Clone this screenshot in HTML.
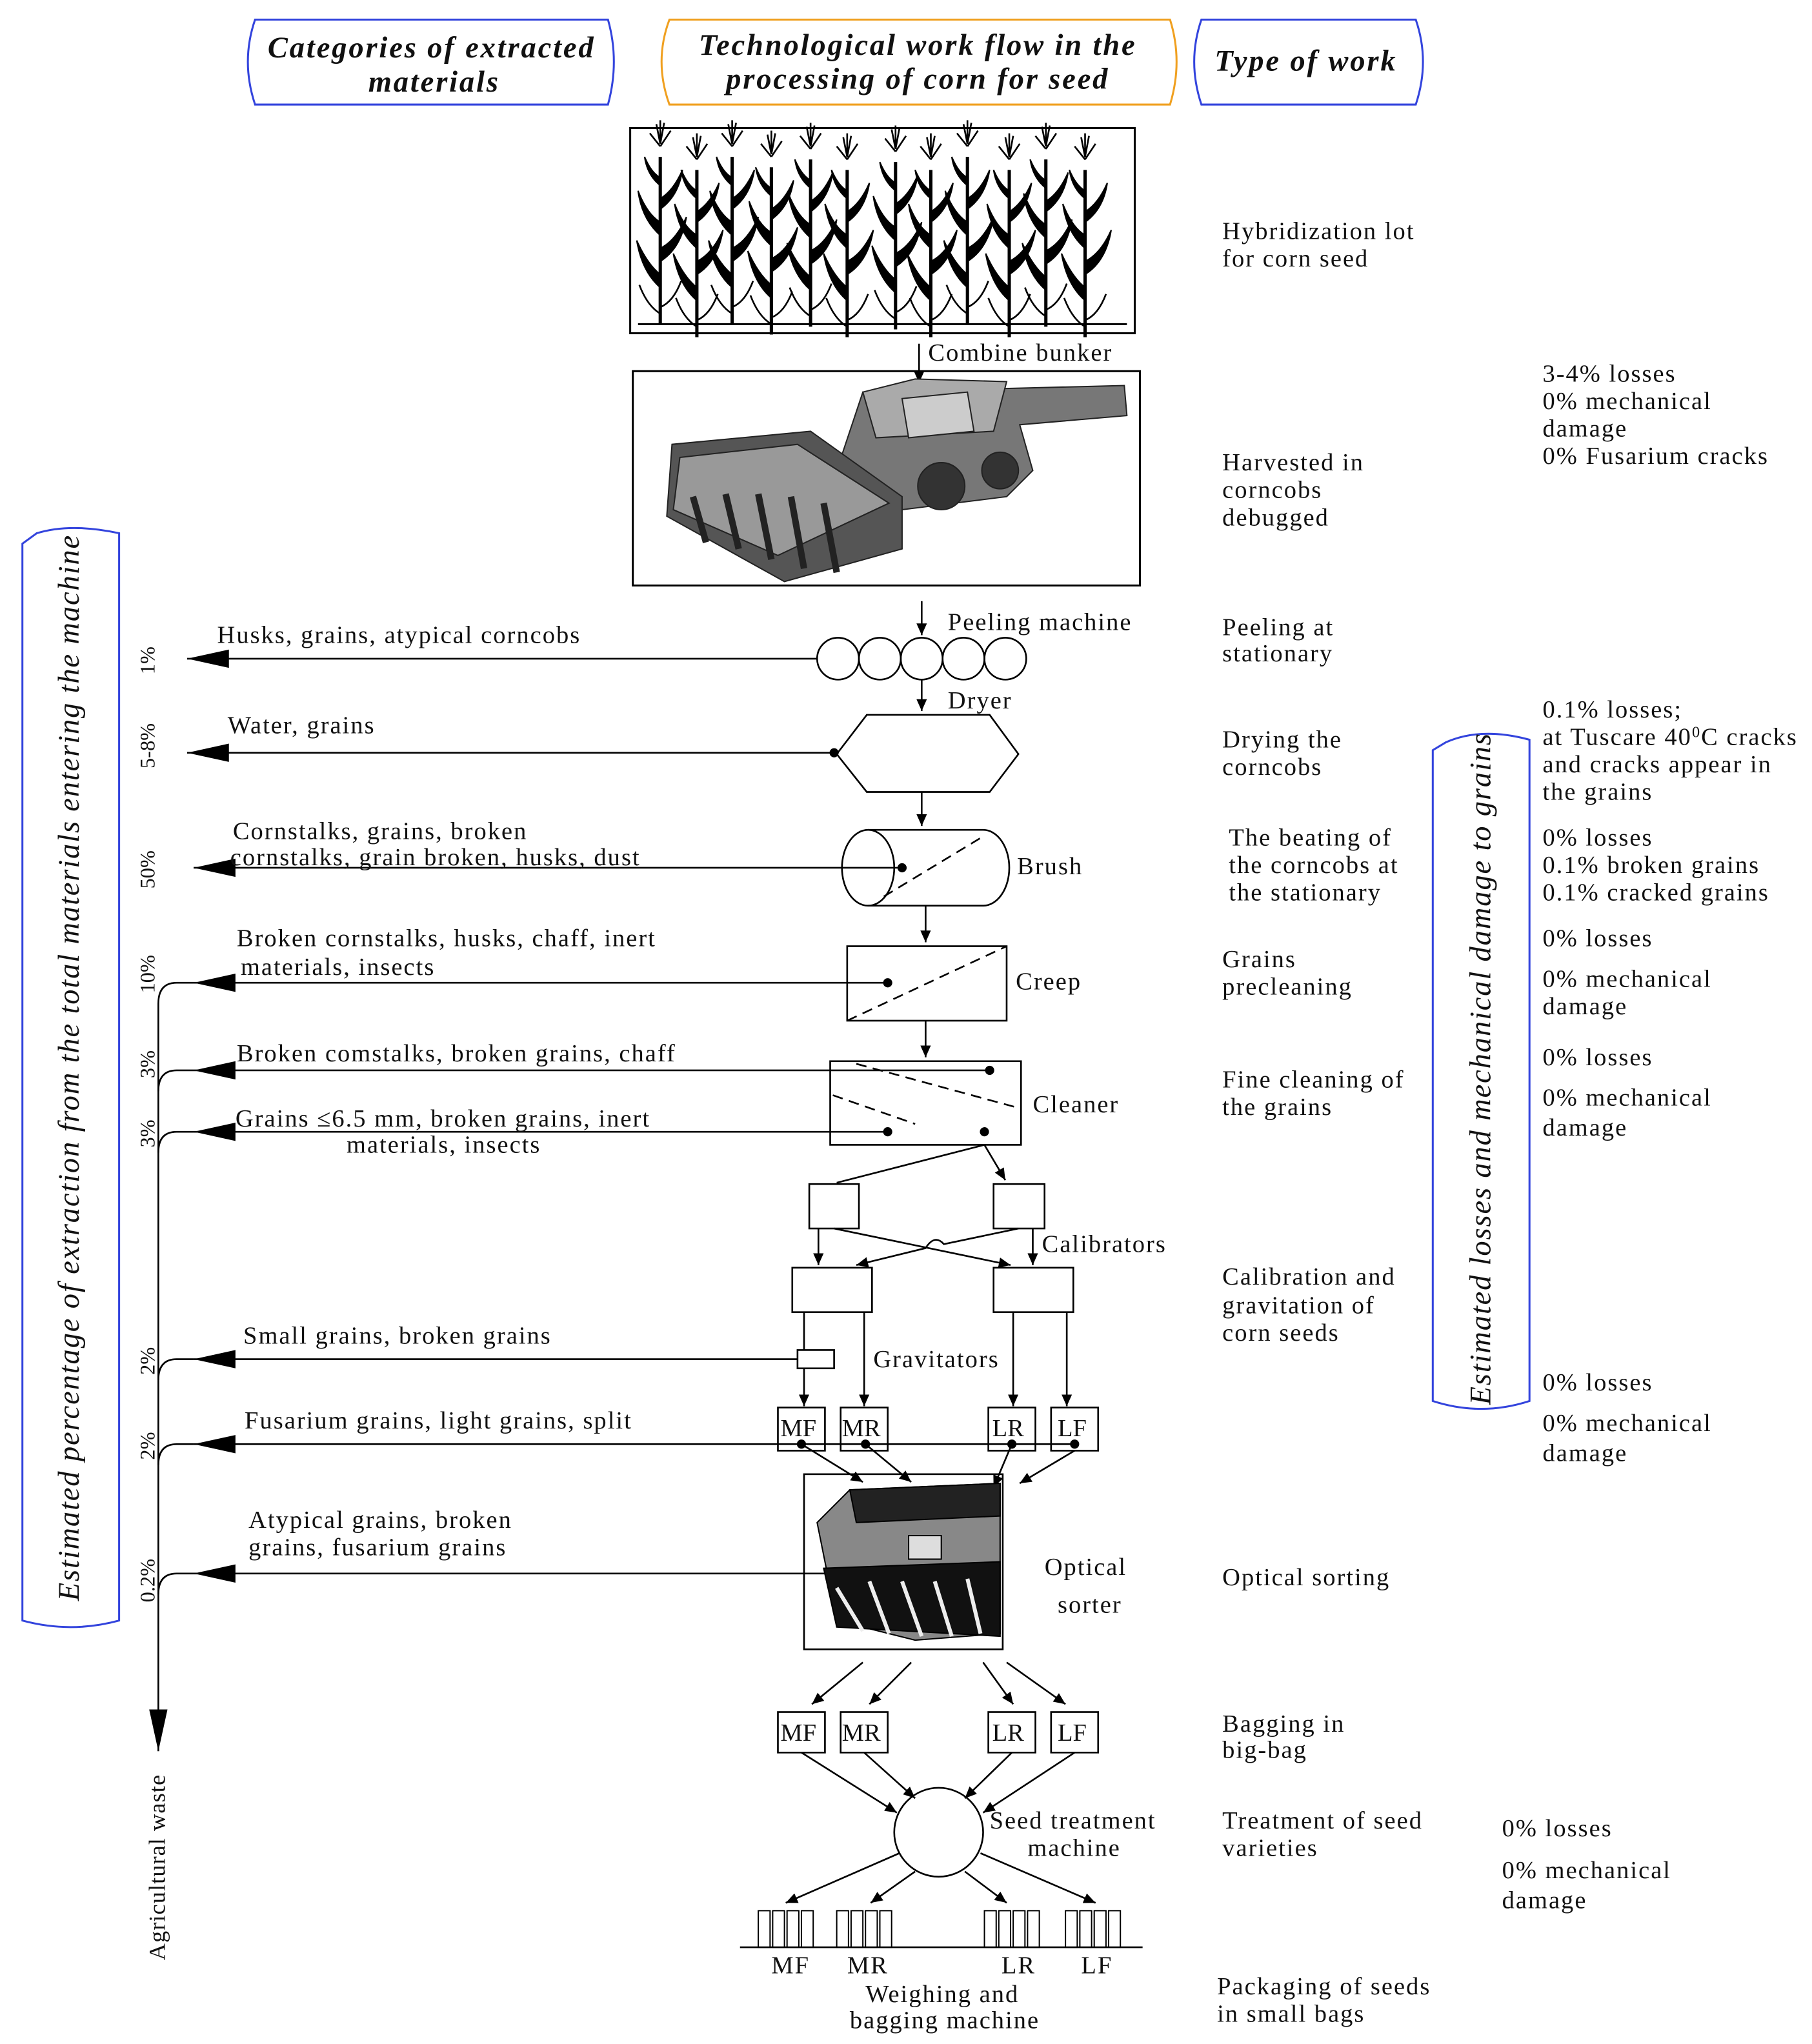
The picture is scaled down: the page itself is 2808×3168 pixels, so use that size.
<!DOCTYPE html>
<html><head><meta charset="utf-8"><style>
html,body{margin:0;padding:0;background:#fff;}
svg{display:block;}
text{font-family:"Liberation Serif",serif;font-size:19px;letter-spacing:1px;fill:#111;}
.h{font-weight:bold;font-style:italic;font-size:23px;letter-spacing:1.4px;}
.v{font-style:italic;font-size:23px;letter-spacing:0.9px;}
.p{font-size:16px;letter-spacing:0;}
</style></head><body>
<svg width="2808" height="3168" viewBox="0 0 1386 1564" xmlns="http://www.w3.org/2000/svg">
<defs>
<marker id="big" markerWidth="40" markerHeight="20" refX="32" refY="7" orient="auto" markerUnits="userSpaceOnUse" viewBox="0 0 40 14"><path d="M0,0 L32,7 L0,14 Z" fill="#000"/></marker>
<marker id="sm" markerWidth="10" markerHeight="10" refX="9" refY="4" orient="auto" markerUnits="userSpaceOnUse"><path d="M0,0 L9,4 L0,8 Z" fill="#000"/></marker>
<g id="plant" stroke="#000" fill="none" stroke-width="2">
<path d="M0,148 L0,20" stroke-width="2.5"/>
<path d="M0,10 L-3,-5 M0,10 L3,-6 M0,12 L-8,2 M0,12 L8,0 M0,8 L0,-8" stroke-width="1.3"/>
<path d="M0,120 q-14,-12 -18,-36 q8,18 18,26" fill="#000" stroke-width="1"/>
<path d="M0,100 q16,-10 20,-34 q-8,18 -20,24" fill="#000" stroke-width="1"/>
<path d="M0,80 q-14,-12 -17,-34 q7,18 17,24" fill="#000" stroke-width="1"/>
<path d="M0,60 q14,-10 17,-30 q-7,16 -17,22" fill="#000" stroke-width="1"/>
<path d="M0,42 q-10,-8 -12,-22 q5,12 12,16" fill="#000" stroke-width="1"/>
<path d="M0,140 q-10,-6 -16,-22 M0,135 q10,-4 16,-20" stroke-width="1.3"/>
</g>
</defs>

<!-- headers -->
<path d="M195,15 H465 Q474,47 465,80 H195 Q184,47 195,15 Z" fill="none" stroke="#3344dd" stroke-width="1.5"/>
<text class="h" x="330" y="44" text-anchor="middle">Categories of extracted</text>
<text class="h" x="332" y="70" text-anchor="middle">materials</text>
<path d="M512,15 H895 Q905,47 895,80 H512 Q500,47 512,15 Z" fill="none" stroke="#f0a020" stroke-width="1.5"/>
<text class="h" x="702" y="42" text-anchor="middle">Technological work flow in the</text>
<text class="h" x="702" y="68" text-anchor="middle">processing of corn for seed</text>
<path d="M919,15 H1083 Q1094,47 1083,80 H919 Q908,47 919,15 Z" fill="none" stroke="#3344dd" stroke-width="1.5"/>
<text class="h" x="999" y="54" text-anchor="middle">Type of work</text>

<!-- corn field -->
<rect x="482" y="98" width="386" height="157" fill="none" stroke="#000" stroke-width="1.5"/>
<line x1="488" y1="248" x2="862" y2="248" stroke="#000" stroke-width="1.5"/>
<use href="#plant" x="505" y="100"/><use href="#plant" x="533" y="110"/><use href="#plant" x="560" y="100"/>
<use href="#plant" x="590" y="108"/><use href="#plant" x="620" y="102"/><use href="#plant" x="648" y="110"/>
<use href="#plant" x="685" y="104"/><use href="#plant" x="712" y="110"/><use href="#plant" x="740" y="100"/>
<use href="#plant" x="772" y="110"/><use href="#plant" x="800" y="102"/><use href="#plant" x="830" y="110"/>

<!-- combine -->
<line x1="703" y1="263" x2="703" y2="293" stroke="#000" stroke-width="1.3" marker-end="url(#sm)"/>
<text x="710" y="276">Combine bunker</text>
<rect x="484" y="284" width="388" height="164" fill="none" stroke="#000" stroke-width="1.5"/>
<g stroke="#222" stroke-width="1">
<path d="M660,300 L860,295 L862,318 L780,325 L790,360 L770,380 L690,390 L640,360 Z" fill="#777"/>
<path d="M660,300 L700,290 L770,292 L760,330 L670,335 Z" fill="#aaa"/>
<path d="M514,340 L620,330 L690,380 L690,420 L600,445 L510,395 Z" fill="#555"/>
<path d="M520,350 L610,340 L680,385 L595,425 L515,390 Z" fill="#999"/>
<path d="M530,380 L540,415 M555,378 L565,420 M580,378 L590,428 M605,380 L615,435 M630,385 L640,438" stroke="#222" stroke-width="5"/>
<circle cx="765" cy="360" r="14" fill="#333"/><circle cx="720" cy="372" r="18" fill="#333"/>
<path d="M690,305 L740,300 L745,330 L695,335 Z" fill="#ccc"/>
</g>

<!-- left label box -->
<path d="M28,408 Q54,400 91,408 V1240 Q54,1250 17,1240 V416 Z" fill="none" stroke="#3344dd" stroke-width="1.5"/>
<text class="v" transform="translate(60,1225) rotate(-90)">Estimated percentage of extraction from the total materials entering the machine</text>
<!-- right label box -->
<path d="M1106,568 Q1133,556 1170,566 V1072 Q1133,1084 1096,1072 V574 Z" fill="none" stroke="#3344dd" stroke-width="1.5"/>
<text class="v" transform="translate(1140,1075) rotate(-90)">Estimated losses and mechanical damage to grains</text>

<g stroke="#000" stroke-width="1.3" fill="none">
<line x1="705" y1="460" x2="705" y2="486" marker-end="url(#sm)"/>
<line x1="625" y1="504" x2="143" y2="504" marker-end="url(#big)"/>
<circle cx="641" cy="504" r="16"/><circle cx="673" cy="504" r="16"/><circle cx="705" cy="504" r="16"/><circle cx="737" cy="504" r="16"/><circle cx="769" cy="504" r="16"/>
<line x1="705" y1="520" x2="705" y2="544" marker-end="url(#sm)"/>
<polygon points="640,577 663,547 757,547 779,577 757,606 663,606"/>
<line x1="638" y1="576" x2="143" y2="576" marker-end="url(#big)"/>
<line x1="705" y1="606" x2="705" y2="632" marker-end="url(#sm)"/>
<path d="M664,635 H752 A20,29 0 0 1 752,693 H664"/>
<ellipse cx="664" cy="664" rx="20" ry="29"/>
<line x1="676" y1="686" x2="752" y2="640" stroke-dasharray="8,5"/>
<line x1="690" y1="664" x2="148" y2="664" marker-end="url(#big)"/>
<line x1="708" y1="693" x2="708" y2="721" marker-end="url(#sm)"/>
<rect x="648" y="724" width="122" height="57"/>
<line x1="648" y1="781" x2="770" y2="724" stroke-dasharray="8,5"/>
<line x1="679" y1="752" x2="148" y2="752" marker-end="url(#big)"/>
<line x1="708" y1="781" x2="708" y2="809" marker-end="url(#sm)"/>
<rect x="635" y="812" width="146" height="64"/>
<line x1="655" y1="814" x2="780" y2="848" stroke-dasharray="8,5"/>
<line x1="637" y1="838" x2="700" y2="860" stroke-dasharray="8,5"/>
<line x1="757" y1="819" x2="148" y2="819" marker-end="url(#big)"/>
<line x1="679" y1="866" x2="148" y2="866" marker-end="url(#big)"/>
<path d="M148,752 H135 Q121,752 121,768 V1340" marker-end="url(#big)"/>
<path d="M148,819 H135 Q121,819 121,835"/>
<path d="M148,866 H135 Q121,866 121,882"/>
<path d="M148,1040 H135 Q121,1040 121,1056"/>
<path d="M148,1105 H135 Q121,1105 121,1121"/>
<path d="M148,1204 H135 Q121,1204 121,1220"/>
<line x1="753" y1="876" x2="640" y2="905"/>
<line x1="753" y1="876" x2="769" y2="903" marker-end="url(#sm)"/>
<rect x="619" y="906" width="38" height="34"/><rect x="760" y="906" width="39" height="34"/>
<rect x="606" y="970" width="61" height="34"/><rect x="760" y="970" width="61" height="34"/>
<line x1="626" y1="940" x2="626" y2="968" marker-end="url(#sm)"/>
<line x1="638" y1="940" x2="773" y2="968" marker-end="url(#sm)"/>
<path d="M779,940 L722,952 Q715,944 708,955 L655,968" marker-end="url(#sm)"/>
<line x1="790" y1="940" x2="790" y2="968" marker-end="url(#sm)"/>
<line x1="615" y1="1004" x2="615" y2="1033"/>
<rect x="610" y="1033" width="28" height="14"/>
<line x1="610" y1="1040" x2="148" y2="1040" marker-end="url(#big)"/>
<line x1="615" y1="1047" x2="615" y2="1076" marker-end="url(#sm)"/>
<line x1="661" y1="1004" x2="661" y2="1076" marker-end="url(#sm)"/>
<line x1="775" y1="1004" x2="775" y2="1076" marker-end="url(#sm)"/>
<line x1="816" y1="1004" x2="816" y2="1076" marker-end="url(#sm)"/>
<rect x="595" y="1077" width="36" height="33"/><rect x="643" y="1077" width="36" height="33"/>
<rect x="756" y="1077" width="36" height="33"/><rect x="804" y="1077" width="36" height="33"/>
<line x1="822" y1="1105" x2="148" y2="1105" marker-end="url(#big)"/>
<line x1="613" y1="1105" x2="660" y2="1134" marker-end="url(#sm)"/>
<line x1="662" y1="1105" x2="697" y2="1134" marker-end="url(#sm)"/>
<line x1="774" y1="1105" x2="760" y2="1138" marker-end="url(#sm)"/>
<line x1="822" y1="1110" x2="780" y2="1135" marker-end="url(#sm)"/>
<rect x="615" y="1128" width="152" height="134"/>
<line x1="640" y1="1204" x2="148" y2="1204" marker-end="url(#big)"/>
<line x1="660" y1="1272" x2="621" y2="1304" marker-end="url(#sm)"/>
<line x1="697" y1="1272" x2="665" y2="1304" marker-end="url(#sm)"/>
<line x1="752" y1="1272" x2="775" y2="1304" marker-end="url(#sm)"/>
<line x1="770" y1="1272" x2="815" y2="1304" marker-end="url(#sm)"/>
<rect x="595" y="1310" width="36" height="31"/><rect x="643" y="1310" width="36" height="31"/>
<rect x="756" y="1310" width="36" height="31"/><rect x="804" y="1310" width="36" height="31"/>
<circle cx="718" cy="1402" r="34"/>
<line x1="613" y1="1341" x2="686" y2="1387" marker-end="url(#sm)"/>
<line x1="661" y1="1341" x2="700" y2="1376" marker-end="url(#sm)"/>
<line x1="774" y1="1341" x2="738" y2="1376" marker-end="url(#sm)"/>
<line x1="822" y1="1341" x2="752" y2="1387" marker-end="url(#sm)"/>
<line x1="688" y1="1418" x2="601" y2="1456" marker-end="url(#sm)"/>
<line x1="700" y1="1432" x2="666" y2="1456" marker-end="url(#sm)"/>
<line x1="738" y1="1432" x2="770" y2="1456" marker-end="url(#sm)"/>
<line x1="750" y1="1418" x2="838" y2="1456" marker-end="url(#sm)"/>
<line x1="566" y1="1490" x2="874" y2="1490"/>
<g stroke-width="1">
<rect x="580" y="1462" width="9" height="28"/><rect x="591" y="1462" width="9" height="28"/><rect x="602" y="1462" width="9" height="28"/><rect x="613" y="1462" width="9" height="28"/>
<rect x="640" y="1462" width="9" height="28"/><rect x="651" y="1462" width="9" height="28"/><rect x="662" y="1462" width="9" height="28"/><rect x="673" y="1462" width="9" height="28"/>
<rect x="753" y="1462" width="9" height="28"/><rect x="764" y="1462" width="9" height="28"/><rect x="775" y="1462" width="9" height="28"/><rect x="786" y="1462" width="9" height="28"/>
<rect x="815" y="1462" width="9" height="28"/><rect x="826" y="1462" width="9" height="28"/><rect x="837" y="1462" width="9" height="28"/><rect x="848" y="1462" width="9" height="28"/>
</g>
</g>
<g stroke="#000" stroke-width="1">
<path d="M625,1165 L650,1140 L765,1135 L765,1250 L700,1255 L640,1240 Z" fill="#888"/>
<path d="M650,1140 L765,1135 L765,1160 L655,1165 Z" fill="#222"/>
<path d="M630,1200 L765,1195 L765,1252 L640,1245 Z" fill="#111"/>
<rect x="695" y="1175" width="25" height="18" fill="#ddd"/>
<path d="M640,1215 L660,1248 M665,1210 L680,1250 M690,1210 L705,1252 M715,1210 L728,1252 M740,1208 L750,1250" stroke="#eee" stroke-width="3"/>
</g>
<g fill="#000">
<circle cx="638" cy="576" r="3.5"/><circle cx="690" cy="664" r="3.5"/><circle cx="679" cy="752" r="3.5"/>
<circle cx="757" cy="819" r="3.5"/><circle cx="679" cy="866" r="3.5"/><circle cx="753" cy="866" r="3.5"/>
<circle cx="613" cy="1105" r="3.5"/><circle cx="662" cy="1105" r="3.5"/><circle cx="774" cy="1105" r="3.5"/><circle cx="822" cy="1105" r="3.5"/>
</g>

<text x="725" y="482">Peeling machine</text>
<text x="725" y="542">Dryer</text>
<text x="778" y="669">Brush</text>
<text x="777" y="757">Creep</text>
<text x="790" y="851">Cleaner</text>
<text x="797" y="958">Calibrators</text>
<text x="668" y="1046">Gravitators</text>
<text x="597" y="1099" style="letter-spacing:0">MF</text><text x="644" y="1099" style="letter-spacing:0">MR</text><text x="759" y="1099" style="letter-spacing:0">LR</text><text x="809" y="1099" style="letter-spacing:0">LF</text>
<text x="799" y="1205">Optical</text><text x="809" y="1234">sorter</text>
<text x="597" y="1332" style="letter-spacing:0">MF</text><text x="644" y="1332" style="letter-spacing:0">MR</text><text x="759" y="1332" style="letter-spacing:0">LR</text><text x="809" y="1332" style="letter-spacing:0">LF</text>
<text x="757" y="1399">Seed treatment</text><text x="786" y="1420">machine</text>
<text x="590" y="1510">MF</text><text x="648" y="1510">MR</text><text x="766" y="1510">LR</text><text x="827" y="1510">LF</text>
<text x="662" y="1532">Weighing and</text><text x="650" y="1552">bagging machine</text>

<text x="166" y="492">Husks, grains, atypical corncobs</text>
<text x="174" y="561">Water, grains</text>
<text x="178" y="642">Cornstalks, grains, broken</text>
<text x="176" y="662">cornstalks,  grain broken, husks, dust</text>
<text x="181" y="724">Broken cornstalks, husks, chaff, inert</text>
<text x="184" y="746">materials, insects</text>
<text x="181" y="812">Broken comstalks, broken grains, chaff</text>
<text x="180" y="862">Grains ≤6.5 mm, broken grains, inert</text>
<text x="265" y="882">materials, insects</text>
<text x="186" y="1028">Small grains, broken grains</text>
<text x="187" y="1093">Fusarium grains, light grains, split</text>
<text x="190" y="1169">Atypical grains, broken</text>
<text x="190" y="1190">grains, fusarium grains</text>
<text class="p" transform="translate(118,516) rotate(-90)">1%</text>
<text class="p" transform="translate(118,588) rotate(-90)">5-8%</text>
<text class="p" transform="translate(118,680) rotate(-90)">50%</text>
<text class="p" transform="translate(118,760) rotate(-90)">10%</text>
<text class="p" transform="translate(118,825) rotate(-90)">3%</text>
<text class="p" transform="translate(118,878) rotate(-90)">3%</text>
<text class="p" transform="translate(118,1052) rotate(-90)">2%</text>
<text class="p" transform="translate(118,1117) rotate(-90)">2%</text>
<text class="p" transform="translate(118,1226) rotate(-90)">0.2%</text>
<text style="font-size:18px;letter-spacing:0.5px" transform="translate(126,1500) rotate(-90)">Agricultural waste</text>

<text x="935" y="183">Hybridization lot</text><text x="935" y="204">for corn seed</text>
<text x="935" y="360">Harvested in</text><text x="935" y="381">corncobs</text><text x="935" y="402">debugged</text>
<text x="935" y="486">Peeling at</text><text x="935" y="506">stationary</text>
<text x="935" y="572">Drying the</text><text x="935" y="593">corncobs</text>
<text x="940" y="647">The beating of</text><text x="940" y="668">the corncobs at</text><text x="940" y="689">the stationary</text>
<text x="935" y="740">Grains</text><text x="935" y="761">precleaning</text>
<text x="935" y="832">Fine cleaning of</text><text x="935" y="853">the grains</text>
<text x="935" y="983">Calibration and</text><text x="935" y="1005">gravitation of</text><text x="935" y="1026">corn seeds</text>
<text x="935" y="1213">Optical sorting</text>
<text x="935" y="1325">Bagging in</text><text x="935" y="1345">big-bag</text>
<text x="935" y="1399">Treatment of seed</text><text x="935" y="1420">varieties</text>
<text x="931" y="1526">Packaging of seeds</text><text x="931" y="1547">in small bags</text>

<text x="1180" y="292">3-4% losses</text><text x="1180" y="313">0% mechanical</text><text x="1180" y="334">damage</text><text x="1180" y="355">0% Fusarium cracks</text>
<text x="1180" y="549">0.1% losses;</text><text x="1180" y="570">at Tuscare 40<tspan dy="-6" font-size="12">0</tspan><tspan dy="6">C cracks</tspan></text><text x="1180" y="591">and cracks appear in</text><text x="1180" y="612">the grains</text>
<text x="1180" y="647">0% losses</text><text x="1180" y="668">0.1% broken grains</text><text x="1180" y="689">0.1% cracked grains</text>
<text x="1180" y="724">0% losses</text><text x="1180" y="755">0% mechanical</text><text x="1180" y="776">damage</text>
<text x="1180" y="815">0% losses</text><text x="1180" y="846">0% mechanical</text><text x="1180" y="869">damage</text>
<text x="1180" y="1064">0% losses</text><text x="1180" y="1095">0% mechanical</text><text x="1180" y="1118">damage</text>
<text x="1149" y="1405">0% losses</text><text x="1149" y="1437">0% mechanical</text><text x="1149" y="1460">damage</text>
</svg>
</body></html>
